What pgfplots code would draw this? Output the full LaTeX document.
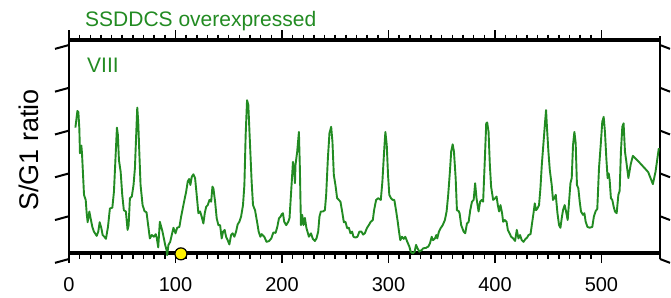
\documentclass[border=0pt]{standalone}
\usepackage{pgfplots}
\pgfplotsset{compat=1.18}
\usepackage{fontspec}
\setmainfont{Liberation Sans}
\definecolor{lgreen}{RGB}{34,139,34}
\pgfplotstableread{
x y
6.0 3.07
7.9 3.46
8.8 3.43
9.7 3.05
10.3 2.47
11.6 2.65
12.2 2.47
14.1 1.50
15.7 1.38
16.6 1.07
17.5 0.86
19.1 1.11
20.3 0.95
21.9 0.75
23.4 0.64
26.0 0.54
27.5 0.64
28.8 0.86
30.4 0.72
31.6 0.56
33.2 0.52
34.7 0.47
36.6 0.75
38.4 1.18
40.7 1.20
42.2 1.57
43.8 2.43
45.0 3.07
45.9 2.90
46.9 2.31
48.5 2.04
50.0 1.50
51.5 1.14
53.4 1.11
55.0 0.68
56.0 0.79
57.2 1.42
59.0 1.46
60.6 1.73
61.9 2.12
63.2 2.97
64.1 3.54
65.0 3.21
66.0 2.51
67.2 1.73
69.1 1.26
70.9 1.12
72.8 1.09
74.7 0.72
75.9 0.48
77.8 0.56
79.7 0.52
81.5 0.58
82.5 0.48
83.8 0.27
85.3 0.87
87.8 0.64
90.3 0.33
91.6 0.21
92.2 0.09
93.4 0.33
95.0 0.40
96.5 0.56
98.1 0.73
100.0 0.60
101.6 0.73
103.7 0.75
105.3 0.99
106.8 1.18
108.4 1.38
110.0 1.57
111.5 1.81
112.8 1.87
114.0 1.73
115.3 1.92
116.8 1.98
118.4 1.89
119.9 1.50
121.5 1.07
123.1 1.11
124.6 0.99
126.2 0.83
127.5 1.07
128.8 1.22
130.3 1.26
131.9 1.38
133.5 1.34
134.7 1.69
135.6 1.65
137.2 1.34
138.7 0.95
140.3 0.79
141.9 0.79
143.4 0.48
144.7 0.64
146.2 0.68
147.5 0.52
149.0 0.44
150.6 0.34
152.2 0.56
153.7 0.60
155.3 0.52
156.9 0.64
158.4 0.81
160.0 0.87
161.6 0.99
163.4 1.26
164.7 1.73
165.9 2.90
167.2 3.71
168.4 3.60
169.6 2.90
171.5 1.81
172.8 1.26
174.7 1.14
176.6 0.87
178.1 0.64
179.7 0.52
180.9 0.58
183.4 0.52
185.5 0.40
187.8 0.42
190.0 0.48
191.9 0.62
194.0 0.61
195.6 0.75
197.2 0.95
198.7 0.99
199.6 1.04
200.9 1.07
202.1 0.87
204.0 0.79
205.9 0.87
207.1 0.96
209.0 1.73
210.3 2.27
211.5 2.04
212.2 1.77
212.7 2.20
214.3 2.51
215.9 2.97
216.8 2.13
217.8 0.79
219.0 1.03
220.2 0.79
221.5 0.96
223.0 0.72
225.3 0.52
227.2 0.60
229.0 0.47
230.9 0.42
232.4 0.48
234.0 0.64
235.2 0.99
236.5 1.11
238.4 1.11
240.3 1.14
241.5 1.50
243.1 2.35
244.6 2.94
246.2 3.09
247.4 2.74
248.7 1.96
250.2 1.73
251.8 1.42
253.4 1.38
254.9 1.34
256.5 1.11
258.1 0.86
259.6 0.87
261.2 0.72
262.8 0.73
264.3 0.60
265.9 0.64
267.1 0.52
269.0 0.50
270.9 0.52
272.7 0.64
274.6 0.64
276.2 0.57
277.8 0.60
279.7 0.72
281.5 0.79
283.4 0.87
285.3 0.91
286.5 1.14
288.4 1.38
290.5 1.42
292.8 1.38
294.3 1.81
295.9 2.51
297.1 2.97
298.4 2.66
299.6 1.96
300.8 1.50
302.4 1.42
304.0 1.38
305.5 1.38
307.1 1.14
308.7 0.87
309.9 0.64
311.1 0.44
312.7 0.52
314.3 0.47
315.8 0.52
317.7 0.40
319.6 0.29
320.9 0.17
322.8 0.13
324.6 0.17
325.9 0.33
327.1 0.26
329.0 0.17
331.2 0.21
332.7 0.25
335.2 0.26
337.4 0.29
339.0 0.37
340.6 0.52
341.8 0.44
343.7 0.48
344.9 0.56
345.8 0.48
347.4 0.64
349.0 0.72
350.9 0.79
353.0 0.91
354.6 1.11
356.1 1.50
357.7 2.04
358.9 2.51
360.3 2.68
361.5 2.51
363.1 1.89
364.3 1.14
365.9 1.12
366.8 1.07
368.3 0.79
370.6 0.64
372.1 0.60
373.7 0.83
375.3 0.87
376.8 1.14
378.4 1.34
380.0 1.38
381.4 1.77
382.7 1.42
384.6 1.11
386.1 1.34
387.7 1.38
388.9 1.34
390.3 2.20
391.8 3.17
392.7 3.19
394.0 2.97
395.2 2.20
396.4 1.69
398.3 1.38
400.2 1.42
401.5 1.46
402.7 1.26
403.9 1.11
405.2 1.26
406.7 1.07
407.7 0.87
409.3 0.91
410.9 0.87
412.1 0.68
413.7 0.60
415.2 0.52
417.1 0.48
418.9 0.42
420.5 0.68
422.1 0.48
423.6 0.56
425.2 0.44
426.8 0.40
428.7 0.47
430.2 0.50
431.5 0.56
433.4 0.58
434.6 0.79
436.2 1.07
437.4 1.30
438.6 1.14
439.9 1.18
441.4 1.26
442.7 1.65
444.0 2.20
445.2 2.59
447.1 3.21
448.0 3.48
448.9 3.05
450.2 2.51
451.5 2.08
453.3 1.73
454.5 1.38
455.9 1.43
457.1 1.50
458.7 1.07
460.2 0.79
461.5 0.73
462.7 0.95
463.9 1.14
465.5 1.26
467.1 1.07
468.3 0.91
469.6 1.34
470.9 1.77
472.1 1.89
473.3 2.66
474.6 2.97
475.8 2.71
477.0 1.73
478.3 1.65
479.6 1.34
480.8 1.11
482.7 1.03
484.0 1.07
485.2 0.87
486.8 0.75
488.9 0.73
491.4 0.75
492.9 0.99
494.6 1.12
496.1 1.17
497.7 2.12
499.3 2.66
500.8 3.21
502.1 3.32
503.3 2.97
504.6 2.35
505.8 1.89
506.8 2.00
507.7 1.85
508.9 1.42
510.2 1.38
511.5 1.22
512.7 1.11
514.3 1.07
515.9 1.50
517.1 1.59
518.3 2.51
519.6 3.09
520.8 3.17
522.1 2.51
523.4 2.27
525.3 1.89
527.4 2.20
529.5 2.41
535.1 2.27
541.4 2.10
543.9 2.03
546.1 1.89
548.3 1.75
550.8 2.04
553.9 2.59
}\ssddcs
\begin{document}
\begin{tikzpicture}
\useasboundingbox (0,0) rectangle (671pt,297pt);
\begin{axis}[
  at={(69pt,44pt)}, anchor=south west,
  scale only axis, width=591pt, height=213pt,
  xmin=0, xmax=555, ymin=0.14, ymax=5.117,
  clip=false,
  separate axis lines,
  x axis line style={line width=3.5pt},
  y axis line style={line width=2pt},
  xtick={0,100,...,500}, minor x tick num=9,
  ytick=\empty,
  tick align=outside,
  major tick length=10pt, minor tick length=5.5pt,
  tick style={black, line width=1.5pt},
  /pgf/number format/assume math mode=true,
  xticklabel style={font=\fontsize{20}{20}\selectfont, yshift=-11pt},
]
\addplot[lgreen, line width=1.9pt, line join=round] table[x=x,y=y] {\ssddcs};
\addplot[only marks, mark=*, mark size=6pt, mark options={fill=yellow, draw=black, line width=1.2pt}] coordinates {(105.1,0.12)};
\draw[line width=2pt] (axis cs:0,0.14) -- (axis cs:0,0);
\draw[line width=2pt] (axis cs:555,0.14) -- (axis cs:555,0);
\draw[line width=2pt] (axis cs:555,5.117) -- ++(0,8pt);
\pgfplotsinvokeforeach{0,...,5}{
  \draw[line width=2pt] (axis cs:0,#1) -- ++(-14pt,0);
  \draw[line width=2pt] (axis cs:555,#1) -- ++(10pt,0);
}
\end{axis}
\node[anchor=base west, inner sep=0pt, text=lgreen, font=\fontsize{21}{21}\selectfont] at (85pt,270.3pt) {SSDDCS overexpressed};
\node[anchor=base west, inner sep=0pt, text=lgreen, font=\fontsize{21}{21}\selectfont] at (87pt,224.3pt) {VIII};
\node[rotate=90, anchor=base, inner sep=0pt, font=\fontsize{27}{27}\selectfont] at (38pt,147pt) {S/G1 ratio};
\end{tikzpicture}
\end{document}
